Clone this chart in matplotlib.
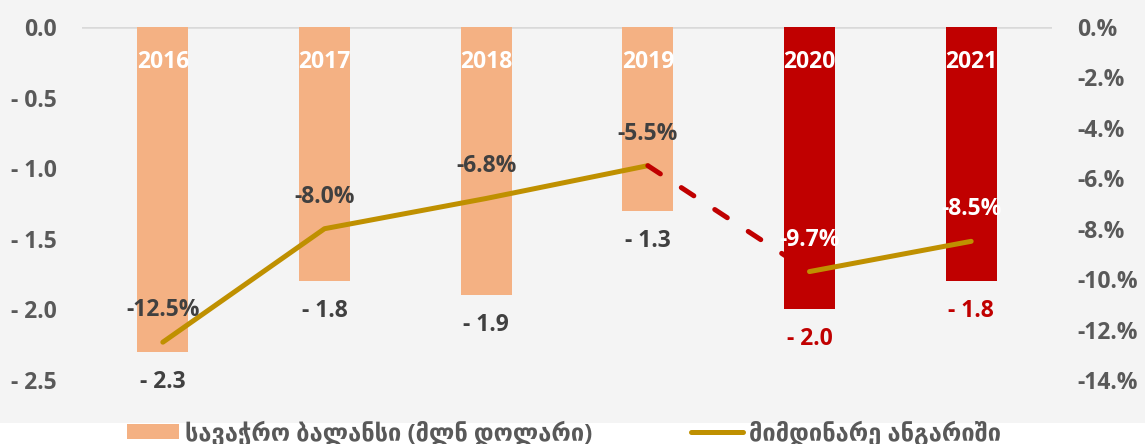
import matplotlib
matplotlib.use("Agg")
import matplotlib.pyplot as plt
from matplotlib.patches import Patch, Rectangle
from matplotlib.lines import Line2D
from matplotlib.font_manager import FontProperties
import matplotlib.transforms as mtransforms
import numpy as np

# ---- data ----
years = ["2016", "2017", "2018", "2019", "2020", "2021"]
trade_balance = [-2.3, -1.8, -1.9, -1.3, -2.0, -1.8]          # bn USD
current_account = [-12.5, -8.0, -6.8, -5.5, -9.7, -8.5]       # % of GDP
left_ticks = [0.0, -0.5, -1.0, -1.5, -2.0, -2.5]
right_ticks = [0, -2, -4, -6, -8, -10, -12, -14]
legend_labels = ["სავაჭრო ბალანსი (მლნ დოლარი)", "მიმდინარე ანგარიში"]

# ---- styles ----
PEACH = "#F4B183"
RED = "#C00000"
GOLD = "#BF9000"
DARK = "#404040"
TICK = "#595959"
BG = "#F4F4F4"
FAM = ["Open Sans", "DejaVu Sans"]
FS = 16.5
LFS = 17

W, H = 1145, 444
fig = plt.figure(figsize=(W / 100, H / 100), dpi=100)
fig.patch.set_facecolor("white")
fig.patches.append(Rectangle((0, 21 / H), 1, 1 - 21 / H, transform=fig.transFigure,
                             facecolor=BG, edgecolor="none", zorder=-10))

ax = fig.add_axes([82 / W, 1 - 380 / H, 970 / W, 353 / H])
ax.set_facecolor("none")
ax2 = ax.twinx()

x = np.arange(len(years))
highlight = [int(y) >= 2020 for y in years]
bar_colors = [RED if h else PEACH for h in highlight]

ax.axhline(0, color="#D9D9D9", lw=1.8, zorder=0)
ax.bar(x, trade_balance, width=0.316, color=bar_colors, zorder=2)
ax.set_xlim(-0.5, len(years) - 0.5)
ax.set_ylim(-2.5, 0)
ax2.set_ylim(-14, 0)

ax.set_yticks(left_ticks)
ax.set_yticklabels(["0.0" if v == 0 else f"- {abs(v):.1f}" for v in left_ticks])
ax2.set_yticks(right_ticks)
ax2.set_yticklabels([f"{v}.%" for v in right_ticks])
ax.set_xticks([])

for a in (ax, ax2):
    for s in a.spines.values():
        s.set_visible(False)
    a.tick_params(axis="y", length=0, pad=18, labelcolor=TICK)
    for lab in a.get_yticklabels():
        lab.set_fontfamily(FAM)
        lab.set_fontweight("bold")
        lab.set_fontsize(FS)

# year labels inside bars
trans = mtransforms.blended_transform_factory(ax.transData, ax.transAxes)
for xi, y in zip(x, years):
    ax.text(xi, 1 - 35 / 353, y, transform=trans, ha="center", va="center",
            color="white", fontfamily=FAM, fontweight="bold", fontsize=FS, zorder=5)

# bar value labels
for xi, v, h in zip(x, trade_balance, highlight):
    ax.annotate(f"- {abs(v):.1f}", (xi, v), xytext=(0, -30), textcoords="offset pixels",
                ha="center", va="center", color=RED if h else DARK,
                fontfamily=FAM, fontweight="bold", fontsize=FS, zorder=5)

# current account line
lw = 3.6
ca = np.array(current_account)
ax2.plot(x[:4], ca[:4], color=GOLD, lw=lw, solid_capstyle="round", zorder=3)
ax2.plot(x[3:5], ca[3:5], color=RED, lw=lw, linestyle=(0, (3, 5)),
         dash_capstyle="round", zorder=3)
ax2.plot(x[4:], ca[4:], color=GOLD, lw=lw, solid_capstyle="round", zorder=3)

for xi, v, h in zip(x, current_account, highlight):
    ax2.annotate(f"{v:.1f}%", (xi, v), xytext=(0, 32), textcoords="offset pixels",
                 ha="center", va="center", color="white" if h else DARK,
                 fontfamily=FAM, fontweight="bold", fontsize=FS, zorder=6)

handles = [Patch(facecolor=PEACH, edgecolor="none"),
           Line2D([], [], color=GOLD, lw=lw, solid_capstyle="round")]
leg = fig.legend(handles, legend_labels, loc="center", bbox_to_anchor=(0.4926, 11 / H),
                 ncol=2, frameon=False,
                 prop=FontProperties(family=FAM, weight="bold", size=LFS),
                 handlelength=2.2, handleheight=0.6, handletextpad=0.25,
                 columnspacing=4.2, borderaxespad=0, borderpad=0)
for t in leg.get_texts():
    t.set_color(TICK)

fig.savefig("out.png", dpi=100, facecolor=fig.get_facecolor())
